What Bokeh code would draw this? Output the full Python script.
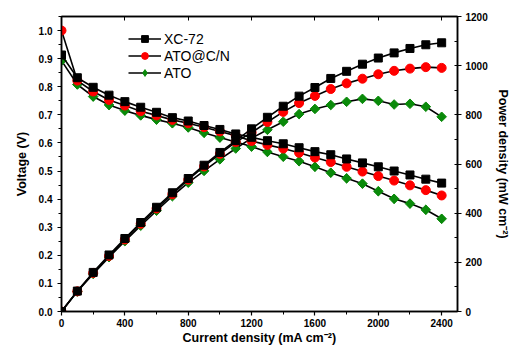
import math
from bokeh.plotting import figure
from bokeh.models import (LinearAxis, Range1d, Legend, LegendItem,
                          SingleIntervalTicker, NumeralTickFormatter,
                          CustomJSTickFormatter)
from bokeh.embed import file_html
from bokeh.resources import INLINE

# ---- data ----
current = [0, 100, 200, 300, 400, 500, 600, 700, 800, 900, 1000, 1100, 1200,
           1300, 1400, 1500, 1600, 1700, 1800, 1900, 2000, 2100, 2200, 2300, 2400]

v_xc72 = [0.913, 0.832, 0.798, 0.770, 0.747, 0.727, 0.709, 0.690, 0.678, 0.662,
          0.648, 0.632, 0.620, 0.608, 0.597, 0.583, 0.569, 0.558, 0.543, 0.529,
          0.515, 0.500, 0.486, 0.471, 0.457]
v_atocn = [1.000, 0.822, 0.783, 0.753, 0.733, 0.713, 0.698, 0.682, 0.670, 0.656,
           0.641, 0.626, 0.607, 0.593, 0.580, 0.565, 0.548, 0.532, 0.515, 0.498,
           0.482, 0.466, 0.449, 0.432, 0.413]
v_ato = [0.893, 0.808, 0.765, 0.735, 0.715, 0.698, 0.683, 0.670, 0.655, 0.636,
         0.619, 0.603, 0.587, 0.568, 0.551, 0.535, 0.515, 0.494, 0.474, 0.455,
         0.428, 0.401, 0.384, 0.362, 0.330]

p_xc72 = [0, 83, 159, 230, 297, 362, 424, 483, 541, 595, 647, 695, 743, 790,
          835, 876, 911, 948, 977, 1006, 1031, 1052, 1070, 1085, 1093]
p_atocn = [0, 82, 157, 226, 293, 357, 419, 477, 536, 590, 641, 689, 728, 771,
           812, 848, 877, 905, 928, 947, 965, 979, 988, 994, 991]
p_ato = [0, 81, 153, 221, 286, 349, 410, 469, 524, 572, 619, 663, 705, 739,
         772, 803, 824, 840, 853, 865, 857, 842, 845, 833, 792]

series_names = ["XC-72", "ATO@C/N", "ATO"]

FONT = "Liberation Sans"

p = figure(width=515, height=347, output_backend="svg", toolbar_location=None,
           x_range=Range1d(0, 2500), y_range=Range1d(0, 1.05),
           min_border_left=61, min_border_right=58, min_border_top=16,
           min_border_bottom=36, background_fill_color="white",
           border_fill_color="white")
p.extra_y_ranges = {"power": Range1d(0, 1200)}
p.xgrid.visible = False
p.ygrid.visible = False
p.outline_line_color = "black"
p.outline_line_width = 1.5
p.outline_line_alpha = 1.0


def style_axis(ax):
    ax.axis_line_color = "black"
    ax.axis_line_width = 1.5
    ax.major_tick_line_color = "black"
    ax.major_tick_line_width = 1.2
    ax.minor_tick_line_color = "black"
    ax.minor_tick_line_width = 1.0
    ax.major_tick_out = 4
    ax.major_tick_in = 0
    ax.minor_tick_out = 3
    ax.minor_tick_in = 0
    ax.major_label_text_font = FONT
    ax.major_label_text_font_style = "bold"
    ax.major_label_text_font_size = "10px"
    ax.major_label_text_color = "black"
    ax.axis_label_text_font = FONT
    ax.axis_label_text_font_style = "bold"
    ax.axis_label_text_font_size = "12.5px"
    ax.axis_label_text_color = "black"


xax = p.xaxis[0]
style_axis(xax)
xax.ticker = SingleIntervalTicker(interval=400, num_minor_ticks=2)
xax.axis_label = "Current density (mA cm\u207b\u00b2)"
xax.major_label_standoff = 3
xax.axis_label_standoff = 1

yax = p.yaxis[0]
style_axis(yax)
yax.ticker = SingleIntervalTicker(interval=0.1, num_minor_ticks=2)
yax.formatter = NumeralTickFormatter(format="0.0")
yax.axis_label = "Voltage (V)"
yax.major_label_standoff = 5
yax.axis_label_standoff = 7

rax = LinearAxis(y_range_name="power")
style_axis(rax)
rax.ticker = SingleIntervalTicker(interval=200, num_minor_ticks=2)
rax.minor_tick_out = 0
rax.minor_tick_in = 3
rax.axis_label = "Power density (mW cm\u207b\u00b2)"
rax.major_label_standoff = 4
rax.axis_label_standoff = 5
p.add_layout(rax, "right")

tax = LinearAxis()
tax.ticker = SingleIntervalTicker(interval=400, num_minor_ticks=2)
tax.formatter = CustomJSTickFormatter(code="return '';")
tax.axis_line_color = "black"
tax.axis_line_width = 1.5
tax.major_tick_in = 4
tax.major_tick_out = 0
tax.minor_tick_in = 0
tax.minor_tick_out = 0
tax.major_tick_line_color = "black"
tax.minor_tick_line_color = None
tax.major_label_standoff = 0
p.add_layout(tax, "above")

colors = ["black", "#ff0000", "#0a8a0a"]
markers = ["square", "circle", "square"]
legend_markers = ["square", "circle", "diamond"]
angles = [0, 0, math.pi / 4]
sizes = [8, 9, 6.8]
volts = [v_xc72, v_atocn, v_ato]
powers = [p_xc72, p_atocn, p_ato]

items = {}
# draw ATO first, XC-72 last (on top)
for i in [2, 1, 0]:
    lv = p.line(current, volts[i], line_color="black", line_width=1.6)
    leg_r = [lv]
    if legend_markers[i] != markers[i]:
        # diamond glyph (shown in the legend), fully covered by the rotated squares
        dv = p.scatter(current, volts[i], marker=legend_markers[i], size=9,
                       fill_color=colors[i], line_color=colors[i])
        leg_r.append(dv)
    sv = p.scatter(current, volts[i], marker=markers[i], size=sizes[i],
                   angle=angles[i], fill_color=colors[i], line_color=colors[i])
    if legend_markers[i] == markers[i]:
        leg_r.append(sv)
    lp = p.line(current, powers[i], line_color="black", line_width=1.6,
                y_range_name="power")
    sp = p.scatter(current, powers[i], marker=markers[i], size=sizes[i],
                   angle=angles[i], fill_color=colors[i], line_color=colors[i],
                   y_range_name="power")
    items[i] = LegendItem(label=series_names[i], renderers=leg_r)

legend = Legend(items=[items[0], items[1], items[2]], location=(67, 230))
legend.border_line_color = None
legend.background_fill_alpha = 0
legend.padding = 0
legend.margin = 0
legend.spacing = 0
legend.glyph_width = 33
legend.glyph_height = 17
legend.label_height = 17
legend.label_standoff = 3
legend.label_text_font = FONT
legend.label_text_font_size = "14px"
legend.label_text_color = "black"
p.add_layout(legend, "center")

open("out.html", "w").write(file_html(p, INLINE))
